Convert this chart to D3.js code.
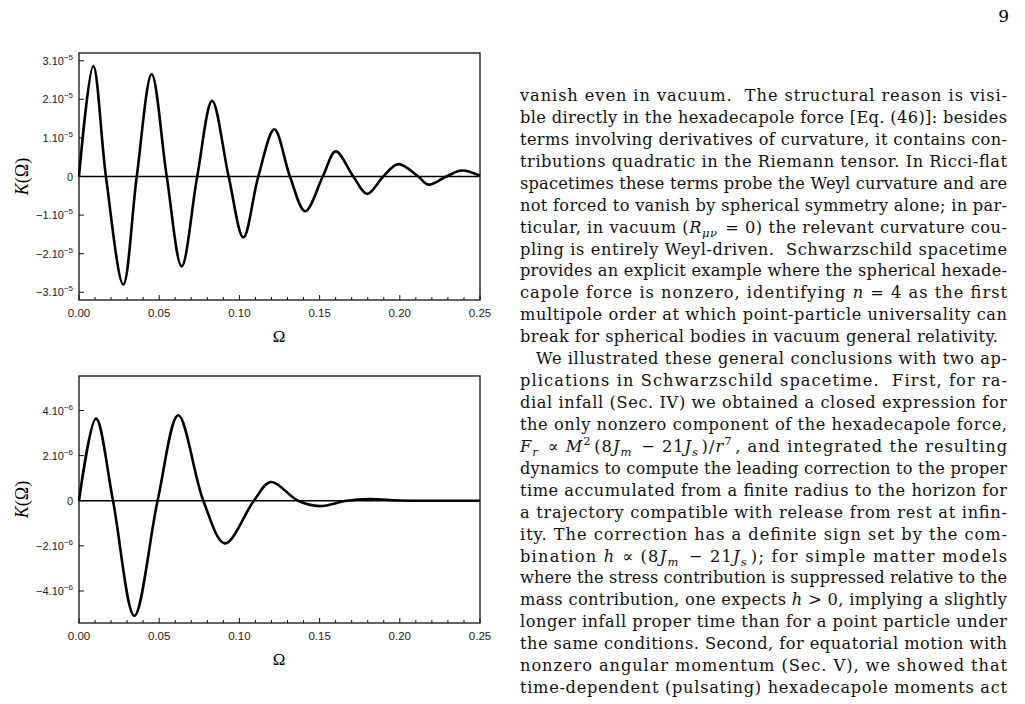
<!DOCTYPE html>
<html><head><meta charset="utf-8">
<script src="https://cdn.jsdelivr.net/npm/d3@7"></script>
<style>body{margin:0;background:#fff}svg{display:block}</style>
</head><body>
<svg id="c" width="1025" height="704"></svg>
<script>
// ---- data (K in units of 1e-5 for top, 1e-6 for bottom) ----
const omegaTop = [0,0.0089,0.0168,0.0276,0.036,0.0453,0.0547,0.064,0.0737,0.083,0.0933,0.1025,0.1118,0.1218,0.1315,0.141,0.152,0.160,0.171,0.1797,0.1897,0.199,0.2115,0.2178,0.229,0.2386,0.25];
const kTop     = [0,2.86,0,-2.80,0,2.65,0,-2.33,0,1.96,0,-1.58,0,1.22,0,-0.90,0,0.65,0,-0.45,0,0.32,0,-0.21,0,0.155,0.02];
const omegaBot = [0,0.0106,0.0212,0.0345,0.049,0.0619,0.0775,0.091,0.109,0.1195,0.1366,0.150,0.167,0.181,0.20,0.225,0.25];
const kBot     = [0,3.64,0,-5.1,0,3.79,0,-1.89,0,0.83,0,-0.24,0,0.07,0.01,0,0];
const xTicks = [0,0.05,0.10,0.15,0.20,0.25];
const yTicksTop = [-3,-2,-1,0,1,2,3];
const yTicksBot = [-4,-2,0,2,4];

const svg = d3.select("#c");
const sans = "'Liberation Sans', Arial, sans-serif";
const serif = "'DejaVu Serif', 'Liberation Serif', serif";
const mserif = "'Liberation Serif', serif";

function panel(top, bottom, ydom, omega, k, yTicks, expo){
  const x = d3.scaleLinear().domain([0,0.25]).range([79,480]);
  const y = d3.scaleLinear().domain(ydom).range([bottom, top]);
  const g = svg.append("g");
  g.append("rect").attr("x",79).attr("y",top).attr("width",401).attr("height",bottom-top)
   .attr("fill","none").attr("stroke","#111").attr("stroke-width",1.3);
  g.append("line").attr("x1",79).attr("x2",480).attr("y1",y(0)).attr("y2",y(0))
   .attr("stroke","#000").attr("stroke-width",1.3);
  d3.range(0,0.2501,0.01).forEach(v=>{
    const major = xTicks.some(t=>Math.abs(t-v)<1e-6);
    g.append("line").attr("x1",x(v)).attr("x2",x(v)).attr("y1",bottom).attr("y2",bottom-(major?5:3))
     .attr("stroke","#111").attr("stroke-width",1);
  });
  xTicks.forEach(v=>{
    g.append("text").attr("x",x(v)).attr("y",bottom+17).attr("text-anchor","middle")
     .attr("font-family",sans).attr("font-size",11.5).attr("fill","#222").text(v.toFixed(2));
  });
  yTicks.forEach(v=>{
    g.append("line").attr("x1",79).attr("x2",84).attr("y1",y(v)).attr("y2",y(v))
     .attr("stroke","#111").attr("stroke-width",1);
    const t = g.append("text").attr("x",73).attr("y",y(v)+4).attr("text-anchor","end")
     .attr("font-family",sans).attr("font-size",11).attr("fill","#222");
    if(v===0){ t.text("0"); }
    else {
      t.append("tspan").text((v<0?"\u2212":"")+Math.abs(v)+".10");
      t.append("tspan").attr("dy",-5).attr("font-size",8).text("\u2212"+expo);
    }
  });
  const pts = omega.map((o,i)=>[o,k[i]]);
  g.append("path").datum(pts)
   .attr("d", d3.line().x(d=>x(d[0])).y(d=>y(d[1])).curve(d3.curveCatmullRom.alpha(0.5)))
   .attr("fill","none").attr("stroke","#000").attr("stroke-width",2.6).attr("stroke-linejoin","round");
  g.append("text").attr("x",279).attr("y",bottom+42).attr("text-anchor","middle")
   .attr("font-family",mserif).attr("font-size",17).text("\u03A9");
  const yl = g.append("text").attr("transform",`translate(28,${(top+bottom)/2}) rotate(-90)`)
   .attr("text-anchor","middle").attr("font-family",mserif).attr("font-size",18);
  yl.append("tspan").attr("font-style","italic").text("K");
  yl.append("tspan").text("(\u03A9)");
}
panel(53,300,[-3.2,3.2],omegaTop,kTop,yTicksTop,5);
panel(376,623,[-5.42,5.53],omegaBot,kBot,yTicksBot,6);

// ---- text column ----
svg.append("text").attr("x",1009).attr("y",22).attr("text-anchor","end")
  .attr("font-family",serif).attr("font-size",17).text("9");
const I = s=>({i:s});
const lines = [
 ["vanish even in vacuum.  The structural reason is visi-"],
 ["ble directly in the hexadecapole force [Eq. (46)]: besides"],
 ["terms involving derivatives of curvature, it contains con-"],
 ["tributions quadratic in the Riemann tensor. In Ricci-flat"],
 ["spacetimes these terms probe the Weyl curvature and are"],
 ["not forced to vanish by spherical symmetry alone; in par-"],
 ["ticular, in vacuum (",I("R"),{sub:"\u03BC\u03BD"}," = 0) the relevant curvature cou-"],
 ["pling is entirely Weyl-driven.  Schwarzschild spacetime"],
 ["provides an explicit example where the spherical hexade-"],
 ["capole force is nonzero, identifying ",I("n")," = 4 as the first"],
 ["multipole order at which point-particle universality can"],
 {last:true, p:["break for spherical bodies in vacuum general relativity."]},
 {indent:true, p:["We illustrated these general conclusions with two ap-"]},
 ["plications in Schwarzschild spacetime.  First, for ra-"],
 ["dial infall (Sec. IV) we obtained a closed expression for"],
 ["the only nonzero component of the hexadecapole force,"],
 [I("F"),{sub:"r"}," \u221D ",I("M"),{sup:"2"},"(8",I("J"),{sub:"m"}," \u2212 21",I("J"),{sub:"s"},")/",I("r"),{sup:"7"},", and integrated the resulting"],
 ["dynamics to compute the leading correction to the proper"],
 ["time accumulated from a finite radius to the horizon for"],
 ["a trajectory compatible with release from rest at infin-"],
 ["ity. The correction has a definite sign set by the com-"],
 ["bination ",I("h")," \u221D (8",I("J"),{sub:"m"}," \u2212 21",I("J"),{sub:"s"},"); for simple matter models"],
 ["where the stress contribution is suppressed relative to the"],
 ["mass contribution, one expects ",I("h")," > 0, implying a slightly"],
 ["longer infall proper time than for a point particle under"],
 ["the same conditions. Second, for equatorial motion with"],
 ["nonzero angular momentum (Sec. V), we showed that"],
 ["time-dependent (pulsating) hexadecapole moments act"]
];
lines.forEach((L,idx)=>{
  const parts = Array.isArray(L)?L:L.p;
  const x0 = (L.indent?536:520);
  const yb = 101 + idx*21.93;
  const t = svg.append("text").attr("x",x0).attr("y",yb)
    .attr("font-family",serif).attr("font-size",16.2).attr("fill","#111")
    .attr("xml:space","preserve");
  t.attr("textLength",(L.last?998:1007)-x0).attr("lengthAdjust","spacing");
  parts.forEach(p=>{
    if(typeof p==="string") t.append("tspan").text(p);
    else if(p.i) t.append("tspan").attr("font-style","italic").text(p.i);
    else if(p.sub){ t.append("tspan").attr("dy",4).attr("font-size",11.5).attr("font-style","italic").text(p.sub); t.append("tspan").attr("dy",-4).text("\u200A"); }
    else if(p.sup){ t.append("tspan").attr("dy",-7).attr("font-size",11.5).text(p.sup); t.append("tspan").attr("dy",7).text("\u200A"); }
  });
});
</script>
</body></html>
